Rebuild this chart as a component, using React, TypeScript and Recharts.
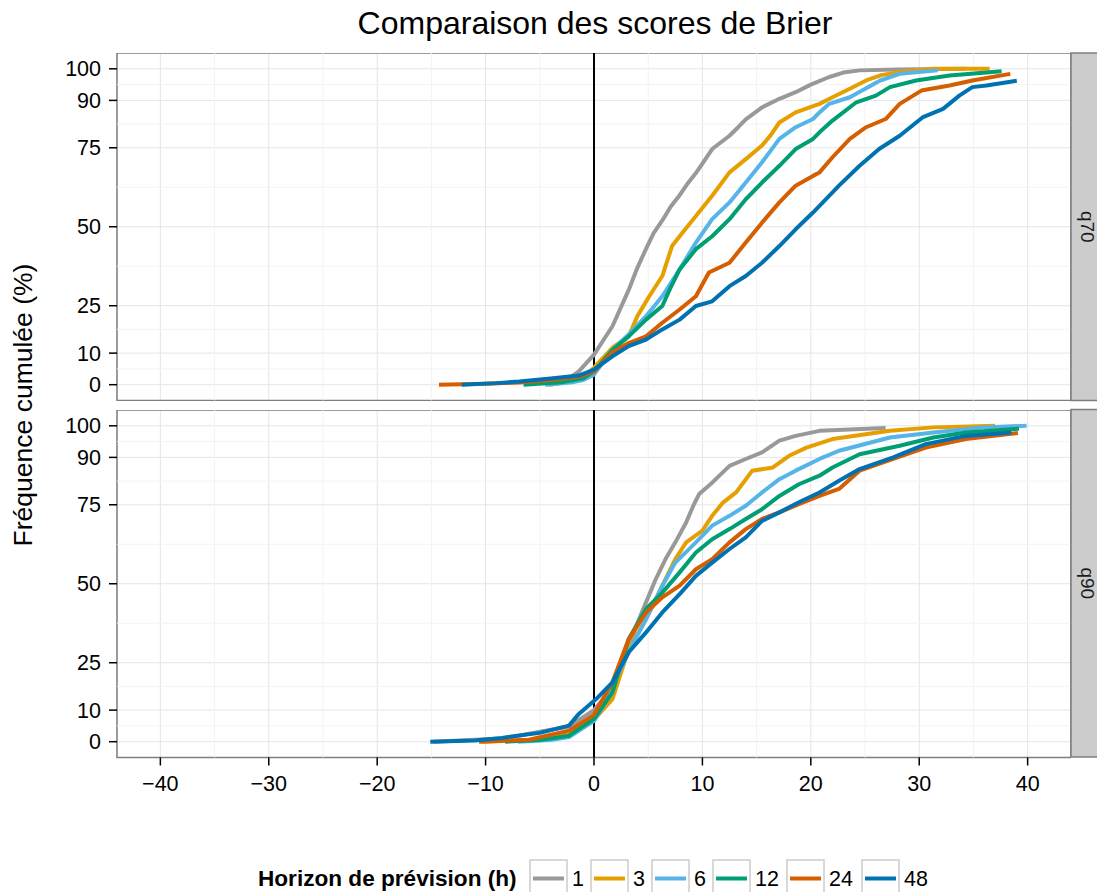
import { LineChart, Line, XAxis, YAxis, CartesianGrid, ReferenceLine, ReferenceArea } from 'recharts';

const FONT = '"Liberation Sans", Arial, sans-serif';

const horizons = ['1', '3', '6', '12', '24', '48'];
const colors = ['#999999', '#E69F00', '#56B4E9', '#009E73', '#D55E00', '#0072B2'];
const facets = ['q70', 'q90'];

const xTicks = [-40, -30, -20, -10, 0, 10, 20, 30, 40];
const xMinor = [-35, -25, -15, -5, 5, 15, 25, 35];
const yTicks = [0, 10, 25, 50, 75, 90, 100];
const yMinor = [5, 17.5, 37.5, 62.5, 82.5, 95];

// q70 — [écart de score, fréquence cumulée %]
const q70_h1 = [[-4, 0], [-2.5, 1.5], [-1.4, 4.2], [0, 9.5], [1.7, 18.5], [3.2, 30], [4, 37], [4.8, 43], [5.5, 48], [6.3, 52], [7.1, 56.5], [7.9, 60], [8.6, 63.5], [9.4, 67], [10.2, 71], [10.9, 74.6], [12.5, 78.8], [13.3, 81.5], [14, 84], [15.5, 87.8], [17.1, 90.5], [18.6, 92.6], [20, 95], [21.7, 97.4], [23, 98.8], [24.5, 99.5], [28, 99.8], [34.3, 100]];
const q70_h3 = [[-4.2, 0], [-2, 1], [-1, 2], [0, 5.4], [1.7, 11.7], [3.2, 15.3], [4, 21.7], [5.1, 28], [6.3, 34.4], [7.2, 43.9], [7.9, 47], [9.4, 53.4], [10.9, 59.8], [12.5, 67.2], [14, 71.4], [15.5, 75.7], [16.3, 79], [17.1, 83], [18.6, 86.2], [20.8, 88.9], [22, 91], [23.6, 93.7], [25.1, 96.3], [26.5, 98], [28.2, 99], [31.3, 100], [36.5, 100]];
const q70_h6 = [[-4.5, 0], [-2, 0.8], [-1, 1.5], [0, 3.2], [1.7, 11.1], [3.2, 15.9], [4.8, 21.7], [6.3, 28], [7.9, 36.5], [9.4, 45], [10.9, 52.4], [12.5, 57.7], [14, 64], [15.5, 70.4], [17.1, 77.8], [18.6, 81.5], [20.2, 84.1], [20.8, 86.2], [21.7, 88.9], [23.6, 91], [26.4, 96.3], [28.2, 98.4], [31.7, 99.5]];
const q70_h12 = [[-6.5, 0], [-3, 0.8], [-1, 2], [0, 4.2], [1.7, 11], [3.2, 15.3], [4.8, 20.6], [6.3, 24.9], [7.1, 31], [7.9, 36.5], [9.4, 42.9], [10.9, 47], [12.5, 52.4], [14, 58.7], [15.5, 64], [17.1, 69.3], [18.6, 74.6], [20.2, 77.8], [20.8, 79.9], [22, 83.6], [24.2, 89.4], [26, 91.5], [27.3, 94.2], [29.7, 96.3], [32.8, 97.9], [37.6, 99.2]];
const q70_h24 = [[-14.3, 0], [-10, 0.3], [-6.9, 0.7], [-4, 1.5], [-1.4, 2.5], [0, 4.2], [1.7, 10.2], [3.2, 13.2], [4.8, 15.3], [6.3, 19.6], [7.9, 23.8], [9.4, 28], [10.6, 35.5], [12.5, 38.6], [14, 45], [15.5, 51.3], [17.1, 57.7], [18.6, 63], [20.2, 66.1], [20.8, 67.2], [22, 72], [23.6, 77.8], [25.1, 81.5], [26.9, 84.1], [28.2, 88.9], [30.2, 93.1], [32.8, 94.7], [34.9, 96.3], [38.4, 98.4]];
const q70_h48 = [[-12.2, 0], [-9, 0.5], [-6.9, 1], [-4, 2], [-1.4, 2.9], [0, 4.8], [1.7, 9], [3.2, 12.2], [4.8, 14.3], [6.3, 17.5], [7.9, 20.6], [9.4, 24.9], [10.9, 26.4], [12.5, 31.2], [14, 34.4], [15.5, 38.6], [17.1, 43.9], [18.6, 49.2], [20.2, 54.5], [20.8, 56.6], [22.6, 63], [24.5, 69.3], [26.3, 74.6], [28.2, 78.8], [30.3, 84.6], [32.2, 87.3], [33.7, 91.5], [34.9, 94.2], [36.2, 94.7], [39, 96.2]];

// q90
const q90_h1 = [[-14.8, 0], [-8.5, 1], [-2.3, 4.8], [0, 10], [1.7, 17], [2.6, 24], [3.9, 36.7], [4.8, 44.1], [5.7, 51.5], [6.6, 57.8], [7.5, 63.1], [8.5, 69.4], [9.2, 75], [9.7, 78.4], [10.9, 82], [12.5, 87.3], [14, 89.5], [15.5, 91.6], [17.1, 95.3], [18.6, 96.8], [20.8, 98.4], [26.9, 99.3]];
const q90_h3 = [[-10.3, 0], [-6, 0.5], [-2.3, 2.5], [0, 7], [1.7, 13.5], [3.2, 29.3], [4.8, 38.8], [6, 47.2], [6.9, 53.6], [7.5, 57.8], [8.5, 63.1], [10, 66.8], [10.9, 71.5], [11.9, 75.7], [13.1, 78.9], [14.6, 85.8], [16.5, 86.8], [18, 90.5], [19.6, 93.1], [22, 95.8], [27.3, 98.4], [31.3, 99.5], [37, 100]];
const q90_h6 = [[-7, 0], [-4, 0.5], [-2.3, 1.5], [0, 6.6], [1, 12], [2.3, 21.9], [3.2, 28.3], [4.8, 38.8], [6.3, 49.4], [7.5, 56.7], [9.4, 63.1], [10.9, 68.4], [12.5, 71.5], [14, 74.7], [15.5, 78.9], [17.1, 83.1], [18.6, 85.8], [20.8, 89.5], [22.6, 92.1], [27.3, 96.3], [31.3, 97.9], [35.9, 99.5], [39.9, 100]];
const q90_h12 = [[-8.2, 0], [-5, 0.5], [-2.3, 1.9], [0, 7.2], [1.7, 15.6], [3.2, 32.5], [4.8, 42], [6.3, 47.2], [7.9, 53.6], [9.4, 59.9], [10.9, 64.1], [12.5, 67.3], [14, 70.5], [15.5, 73.6], [17.1, 77.8], [18.9, 81.5], [20.8, 84.2], [22, 86.8], [24.5, 91], [28.2, 93.7], [31.3, 96.3], [34.3, 97.9], [39.2, 99.1]];
const q90_h24 = [[-10.6, 0], [-6, 0.6], [-2.3, 3.5], [0, 8.5], [1.7, 18.8], [3.2, 32.5], [4.8, 40.9], [6.3, 45.7], [7.9, 49.4], [9.4, 54.6], [10.9, 57.8], [12.5, 63.1], [14, 67.3], [15.5, 70.5], [17.1, 72.6], [18.9, 75.2], [20.8, 77.8], [22.6, 80], [24.5, 85.8], [27.6, 89.5], [30.6, 93.1], [34.3, 95.8], [39.1, 97.7]];
const q90_h48 = [[-15.1, 0], [-11, 0.4], [-8.5, 1.2], [-5, 2.8], [-2.3, 5.1], [-1.4, 8.8], [0.2, 13.5], [1.7, 18.8], [3.2, 28.3], [4.8, 34.6], [6.3, 40.9], [7.9, 46.7], [9.4, 52.5], [10.9, 56.7], [12.5, 61], [14, 64.7], [15.5, 69.9], [17.1, 72.6], [18.9, 75.8], [20.8, 78.9], [22.6, 82.6], [24.5, 86.3], [27.6, 90], [30.6, 94.2], [34.3, 96.8], [38.5, 97.9]];

const q70 = [q70_h1, q70_h3, q70_h6, q70_h12, q70_h24, q70_h48];
const q90 = [q90_h1, q90_h3, q90_h6, q90_h12, q90_h24, q90_h48];

const toPts = (arr: number[][]) => arr.map(([x, y]) => ({ x, y }));

const PANEL_LEFT = 117;
const PANEL_RIGHT = 1071;
const PANEL_H = 347.5;
const PANEL_TOPS = [53, 409.5];
const X_AXIS_H = 50;

const fmtX = (v: number) => (v < 0 ? `\u2212${-v}` : `${v}`);

function Panel({ series, top, showX }: { series: number[][][]; top: number; showX: boolean }) {
  return (
    <div style={{ position: 'absolute', left: 0, top }}>
      <LineChart
        width={PANEL_RIGHT}
        height={showX ? PANEL_H + X_AXIS_H : PANEL_H}
        margin={{ top: 0, right: 0, bottom: 0, left: 0 }}
      >
        {xMinor.map((v) => (
          <ReferenceLine key={`mx${v}`} x={v} stroke="#f3f3f3" strokeWidth={1} />
        ))}
        {yMinor.map((v) => (
          <ReferenceLine key={`my${v}`} y={v} stroke="#f3f3f3" strokeWidth={1} />
        ))}
        <CartesianGrid stroke="#e5e5e5" strokeWidth={1} />
        <XAxis
          type="number"
          dataKey="x"
          domain={[-44, 44]}
          allowDataOverflow
          ticks={xTicks}
          interval={0}
          hide={!showX}
          height={X_AXIS_H}
          axisLine={false}
          tickLine={{ stroke: '#000', strokeWidth: 1.5 }}
          tickSize={8}
          tickMargin={10}
          tickFormatter={fmtX}
          tick={{ fill: '#000', fontSize: 21.5, fontFamily: FONT }}
        />
        <YAxis
          type="number"
          dataKey="y"
          domain={[-5, 105]}
          allowDataOverflow
          ticks={yTicks}
          interval={0}
          width={PANEL_LEFT}
          axisLine={false}
          tickLine={{ stroke: '#000', strokeWidth: 1.5 }}
          tickSize={8}
          tickMargin={8}
          tick={{ fill: '#000', fontSize: 21.5, fontFamily: FONT }}
        />
        <ReferenceLine x={0} stroke="#000" strokeWidth={2} />
        {series.map((s, i) => (
          <Line
            key={horizons[i]}
            data={toPts(s)}
            dataKey="y"
            name={horizons[i]}
            type="linear"
            stroke={colors[i]}
            strokeWidth={4}
            strokeLinejoin="round"
            dot={false}
            activeDot={false}
            isAnimationActive={false}
          />
        ))}
        <ReferenceArea x1={-44} x2={44} y1={-5} y2={105} fill="none" stroke="#7f7f7f" strokeWidth={1.5} ifOverflow="visible" />
      </LineChart>
    </div>
  );
}

const legendKeys = [530, 591, 652, 713, 787, 862];

export default function App() {
  return (
    <div style={{ position: 'absolute', left: 0, top: 0, width: 1097, height: 892, background: '#fff', overflow: 'hidden', fontFamily: FONT }}>
      <Panel series={q70} top={PANEL_TOPS[0]} showX={false} />
      <Panel series={q90} top={PANEL_TOPS[1]} showX />
      <svg width={1097} height={892} style={{ position: 'absolute', left: 0, top: 0, pointerEvents: 'none' }}>
        <text x={595} y={34} textAnchor="middle" fontSize={32} fill="#000" fontFamily={FONT}>
          Comparaison des scores de Brier
        </text>
        <text x={32} y={405} textAnchor="middle" fontSize={26.5} fill="#000" fontFamily={FONT} transform="rotate(-90 32 405)">
          Fréquence cumulée (%)
        </text>
        {facets.map((f, i) => {
          const top = PANEL_TOPS[i];
          const cy = top + PANEL_H / 2;
          return (
            <g key={f}>
              <rect x={PANEL_RIGHT} y={top} width={40} height={PANEL_H} fill="#cccccc" stroke="#7f7f7f" strokeWidth={1.5} />
              <text x={1087} y={cy} textAnchor="middle" dominantBaseline="central" fontSize={19} fill="#1a1a1a" fontFamily={FONT} transform={`rotate(90 1087 ${cy})`}>
                {f}
              </text>
            </g>
          );
        })}
        <text x={258} y={886} fontSize={22.6} fontWeight="bold" fill="#000" fontFamily={FONT}>
          Horizon de prévision (h)
        </text>
        {horizons.map((h, i) => {
          const x = legendKeys[i];
          return (
            <g key={h}>
              <rect x={x} y={860} width={37} height={40} fill="#fff" stroke="#cccccc" strokeWidth={1.5} />
              <line x1={x + 3} x2={x + 34} y1={878.5} y2={878.5} stroke={colors[i]} strokeWidth={4} />
              <text x={x + 42} y={886} fontSize={21.5} fill="#000" fontFamily={FONT}>
                {h}
              </text>
            </g>
          );
        })}
      </svg>
    </div>
  );
}
